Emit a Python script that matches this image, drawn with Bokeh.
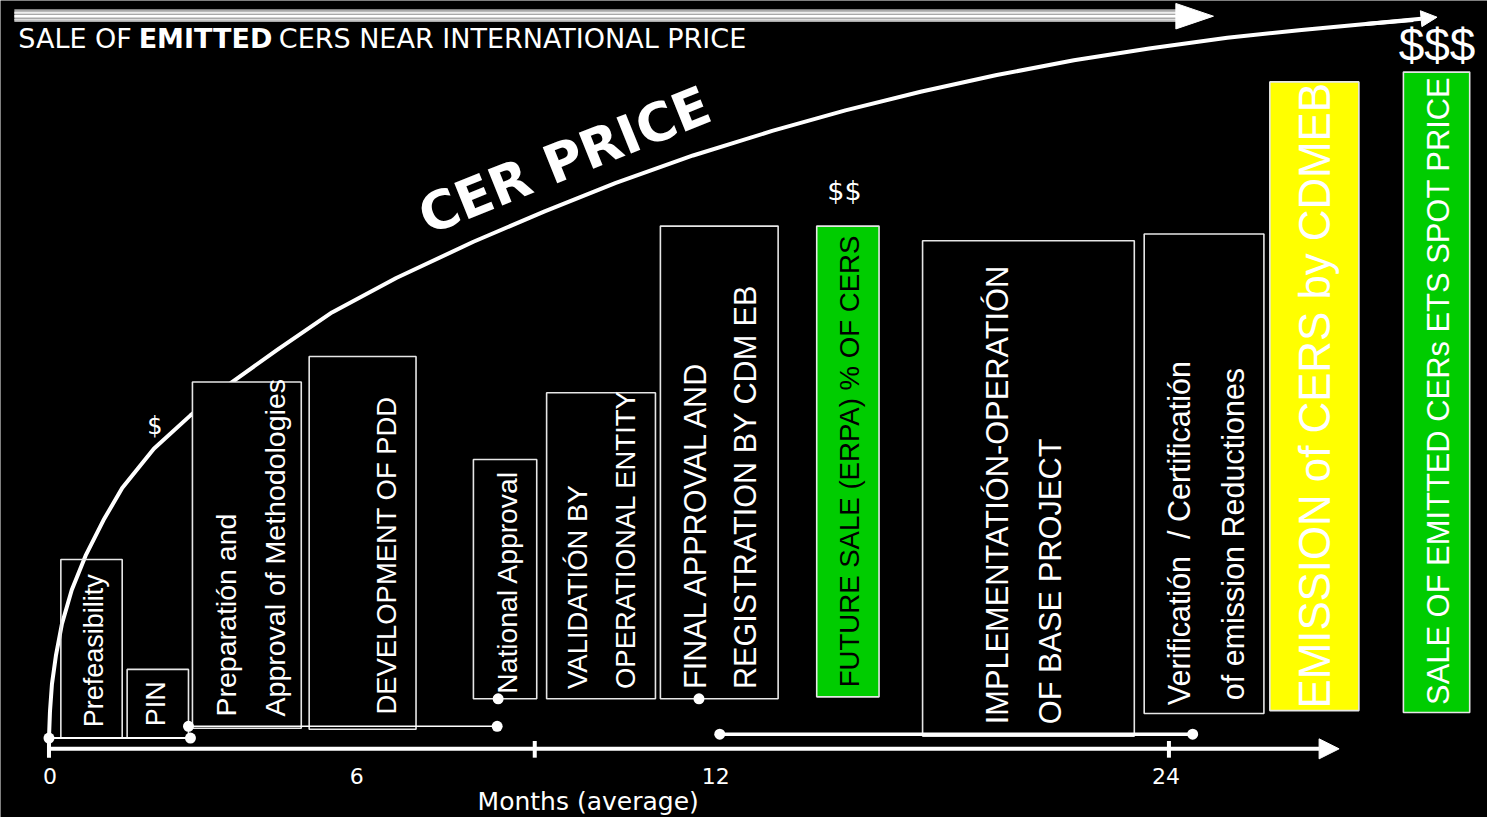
import math
from bokeh.plotting import figure
from bokeh.models import Range1d, ColumnDataSource, Arrow, NormalHead
from bokeh.core.properties import value
from bokeh.embed import file_html
from bokeh.resources import INLINE

# ---------------- data (diagram units: x to the right, y downward) ----------------
# CER price curve
price_x = [49, 50, 52, 56, 62, 72, 86, 104, 123, 155, 192, 234, 280, 335, 400, 478,
           550, 622, 700, 780, 854, 930, 1007, 1085, 1161, 1240, 1315, 1380, 1428]
price_y = [752, 725, 697, 668, 636, 601, 566, 530, 497, 457, 423, 389, 356, 318, 283, 246,
           215, 186, 158, 133, 112, 93, 76, 61, 49, 38, 30, 24, 20]

# Stage boxes
stage_names = ["Prefeasibility", "PIN", "Preparation", "PDD", "National", "Validation",
               "Final", "FutureSale", "Implementation", "Verification", "Emission", "SpotSale"]
stage_left = [61, 128, 194, 312, 478, 552, 667, 825, 932, 1156, 1283, 1418]
stage_right = [123, 190, 304, 420, 542, 662, 786, 888, 1146, 1277, 1373, 1485]
stage_top = [570, 682, 389, 363, 468, 400, 230, 230, 245, 238, 83, 73]
stage_bottom = [752, 752, 742, 743, 712, 712, 712, 710, 750, 727, 724, 726]
stage_fill = ["none", "black", "black", "black", "black", "black", "black",
              "#00cc00", "black", "black", "#ffff00", "#00cc00"]

# Stage texts (vertical)
label_text = ["Prefeasibility", "PIN", "Preparatión and", "Approval of Methodologies",
              "DEVELOPMENT OF PDD", "National Approval", "VALIDATIÓN BY", "OPERATIONAL ENTITY",
              "FINAL APPROVAL AND", "REGISTRATION BY CDM EB", "FUTURE SALE (ERPA) % OF CERS",
              "IMPLEMENTATIÓN-OPERATIÓN", "OF BASE PROJECT", "Verificatión\u00a0 / Certificatión",
              "of emission Reductiones", "EMISSION of CERS by CDMEB",
              "SALE OF EMITTED CERs ETS SPOT PRICE"]
label_x = [95, 157, 228, 277, 390, 512, 583, 632, 702, 753, 858, 1008, 1061, 1191, 1246, 1328, 1453]
label_y = [663, 717, 730, 730, 728, 593, 702, 702, 702, 702, 470, 738, 738, 543, 544, 403, 398]
label_anchor = ["center", "center", "start", "start", "start", "center", "start", "start",
                "start", "start", "center", "start", "start", "center", "center", "center", "center"]
label_pt = [27, 27, 28.5, 28.5, 27.4, 28.3, 27.5, 27.5, 30.6, 30.6, 27.6, 30.8, 30.8,
            30.5, 30.5, 43.8, 30.9]
label_color = ["white"] * 10 + ["black"] + ["white"] * 6

# Timeline connectors (lines with end dots)
conn_x0 = [49, 190, 503, 727]
conn_x1 = [192, 502, 706, 1205]
conn_y0 = [752, 740, 712, 748]
conn_y1 = [752, 740, 712, 748]
conn_w = [2, 1.5, 0, 3.5]

# Months axis
month_labels = ["0", "6", "12", "24"]
month_label_x = [50, 360, 723, 1178]
tick_x = [49, 540, 1181]

price_marks = ["$", "$$", "$$$"]
price_mark_x = [156, 853, 1452]
price_mark_y = [434, 194, 45]

title_parts = ["SALE OF", "EMITTED", "CERS NEAR INTERNATIONAL PRICE"]

# ---------------- figure ----------------
W, H = 1487, 817
p = figure(width=W, height=H, x_range=Range1d(0, 1503), y_range=Range1d(833, 0),
           output_backend="svg", toolbar_location=None, min_border=0,
           x_axis_location=None, y_axis_location=None)
p.grid.visible = False
p.background_fill_color = "black"
p.border_fill_color = "black"
p.outline_line_color = None

FONT_H = value("DejaVu Sans")
FONT_V = value("Liberation Sans")

# top grey timeline arrow
p.quad(left=[14], right=[1190], top=[9], bottom=[22], fill_color="#a9a9a9", line_color=None)
p.segment(x0=[14, 14, 14], x1=[1190, 1190, 1190], y0=[12.5, 16, 19.5], y1=[12.5, 16, 19.5],
          line_color=["#eeeeee", "white", "#dddddd"], line_width=[2, 2.5, 1.5])
p.patch(x=[1188, 1226, 1188], y=[3, 16, 29], fill_color="white", line_color="white")

TS = 27  # title font size (px)
title_x = [18, 18 + 4.506 * TS, 18 + (4.506 + 4.927 + 0.318) * TS]
p.text(x=[title_x[0], title_x[2]], y=[39, 39], text=[title_parts[0], title_parts[2]],
       text_color="white", text_font=FONT_H, text_font_size="%dpx" % TS,
       text_baseline="middle", text_align="left")
p.text(x=[title_x[1]], y=[39], text=[title_parts[1]], text_color="white", text_font=FONT_H,
       text_font_size="%dpx" % TS, text_font_style="bold", text_baseline="middle",
       text_align="left")

# CER price curve
p.line(price_x, price_y, line_color="white", line_width=4, line_join="round")
p.add_layout(Arrow(x_start=price_x[-2], y_start=price_y[-2], x_end=1452, y_end=17,
                   line_color="white", line_width=4,
                   end=NormalHead(size=16, fill_color="white", line_color="white")))

p.text(x=[570], y=[163], text=["CER PRICE"], angle=math.radians(22), text_color="white",
       text_font=FONT_H, text_font_style="bold", text_font_size="53px",
       text_align="center", text_baseline="middle")

p.text(x=price_mark_x[:1], y=price_mark_y[:1], text=price_marks[:1], text_color="white",
       text_font=FONT_H, text_font_size="24px", text_align="center", text_baseline="middle")
p.text(x=price_mark_x[1:2], y=price_mark_y[1:2], text=price_marks[1:2], text_color="white",
       text_font=FONT_H, text_font_size="27px", text_align="center", text_baseline="middle")
p.text(x=price_mark_x[2:], y=price_mark_y[2:], text=price_marks[2:], text_color="white",
       text_font=FONT_V, text_font_size="46px",
       text_align="center", text_baseline="middle")

# stage boxes
box_src = ColumnDataSource(dict(l=stage_left, r=stage_right, t=stage_top, b=stage_bottom,
                                f=["black" if f == "none" else f for f in stage_fill],
                                a=[0 if f == "none" else 1 for f in stage_fill]))
p.quad(left="l", right="r", top="t", bottom="b", fill_color="f", fill_alpha="a",
       line_color="#e6e6e6", line_width=1.6, source=box_src)

for anchor, align in (("start", "left"), ("center", "center")):
    idx = [i for i, a in enumerate(label_anchor) if a == anchor]
    src = ColumnDataSource(dict(
        x=[label_x[i] for i in idx], y=[label_y[i] for i in idx],
        t=[label_text[i] for i in idx], c=[label_color[i] for i in idx],
        s=["%.1fpx" % label_pt[i] for i in idx]))
    p.text(x="x", y="y", text="t", text_color="c", text_font_size="s",
           text_font=FONT_V, angle=math.pi / 2,
           text_align=align, text_baseline="middle", source=src)

# connectors
p.segment(x0=conn_x0, x1=conn_x1, y0=conn_y0, y1=conn_y1, line_color="white", line_width=conn_w)
p.scatter(x=conn_x0 + conn_x1, y=conn_y0 + conn_y1, size=11, marker="circle",
          fill_color="white", line_color=None)

# months axis
p.add_layout(Arrow(x_start=49, y_start=763, x_end=1353, y_end=763, line_color="white",
                   line_width=4, end=NormalHead(size=20, fill_color="white", line_color="white")))
p.segment(x0=tick_x, x1=tick_x, y0=[755] * 3, y1=[772] * 3, line_color="white", line_width=4)
p.text(x=month_label_x, y=[791] * 4, text=month_labels, text_color="white", text_font=FONT_H,
       text_font_size="22px", text_align="center", text_baseline="middle")
p.text(x=[594], y=[817], text=["Months (average)"], text_color="white", text_font=FONT_H,
       text_font_size="25px", text_align="center", text_baseline="middle")

open("out.html", "w").write(file_html(p, INLINE))
